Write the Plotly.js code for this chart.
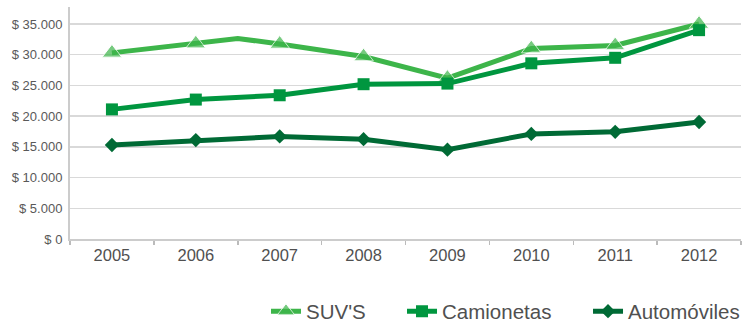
<!DOCTYPE html>
<html><head><meta charset="utf-8">
<script src="https://cdn.plot.ly/plotly-3.0.1.min.js"></script>
<style>html,body{margin:0;padding:0;background:#fff}#chart{width:755px;height:322px}</style>
</head><body><div id="chart"></div>
<script>
var years = [2005, 2006, 2007, 2008, 2009, 2010, 2011, 2012];
var yearLabels = ['2005', '2006', '2007', '2008', '2009', '2010', '2011', '2012'];
var suvX = [2005, 2006, 2006.5, 2007, 2008, 2009, 2010, 2011, 2012];
var suvY = [30300, 31800, 32650, 31750, 29700, 26200, 31000, 31500, 35000];
var suvMarked = [true, true, false, true, true, true, true, true, true];
var camionetas = [21100, 22700, 23400, 25200, 25300, 28600, 29500, 34000];
var automoviles = [15300, 16100, 16700, 16250, 14550, 17100, 17450, 19050];
var yTickVals = [0, 5000, 10000, 15000, 20000, 25000, 30000, 35000];
var yTickText = ['$ 0', '$ 5.000', '$ 10.000', '$ 15.000', '$ 20.000', '$ 25.000', '$ 30.000', '$ 35.000'];
var boundaries = [2004.5, 2005.5, 2006.5, 2007.5, 2008.5, 2009.5, 2010.5, 2011.5, 2012.5];

var traces = [
  {x: suvX, y: suvY, name: "SUV'S", mode: 'lines+markers', legend: 'legend',
   line: {color: '#3db54a', width: 5},
   marker: {symbol: 'triangle-up', size: suvMarked.map(function(m){return m ? 17 : 0;}), color: '#3db54a'}},
  {x: years, y: camionetas, name: 'Camionetas', mode: 'lines+markers', legend: 'legend2',
   line: {color: '#00963f', width: 5},
   marker: {symbol: 'square', size: 12, color: '#00963f'}},
  {x: years, y: automoviles, name: 'Automóviles', mode: 'lines+markers', legend: 'legend3',
   line: {color: '#006a35', width: 5},
   marker: {symbol: 'diamond', size: 11, color: '#006a35'}}
];

function leg(x) {
  return {orientation: 'h', x: x, xanchor: 'left', y: -0.312, yanchor: 'middle',
          font: {size: 20.5, color: '#505050'}, itemwidth: 30, bgcolor: 'rgba(0,0,0,0)'};
}

var layout = {
  width: 755, height: 322,
  margin: {l: 70, r: 14, t: 7, b: 83.3, autoexpand: false},
  paper_bgcolor: '#fff', plot_bgcolor: '#fff',
  font: {family: 'Liberation Sans, Arial, sans-serif', color: '#555'},
  showlegend: true,
  legend: leg(0.2921),
  legend2: leg(0.4948),
  legend3: leg(0.772),
  xaxis: {
    type: 'linear', range: [2004.5, 2012.5],
    tickvals: years, ticktext: yearLabels, ticks: '', showgrid: false, zeroline: false,
    showline: true, linecolor: '#cccccc', linewidth: 2,
    tickfont: {size: 16.5, color: '#505050'}, ticklabelstandoff: 0,
    minor: {tickvals: boundaries, ticks: 'outside', ticklen: 4, tickcolor: '#bbbbbb', tickwidth: 1.5, showgrid: false},
    fixedrange: true
  },
  yaxis: {
    range: [0, 37770], tickvals: yTickVals, ticktext: yTickText,
    showgrid: true, gridcolor: '#d9d9d9', gridwidth: 1.5, zeroline: false,
    showline: true, linecolor: '#cccccc', linewidth: 2,
    ticks: '', ticklabelstandoff: 3,
    tickfont: {size: 13, color: '#595959'},
    fixedrange: true
  }
};
Plotly.newPlot('chart', traces, layout, {staticPlot: true, displayModeBar: false});
</script></body></html>
